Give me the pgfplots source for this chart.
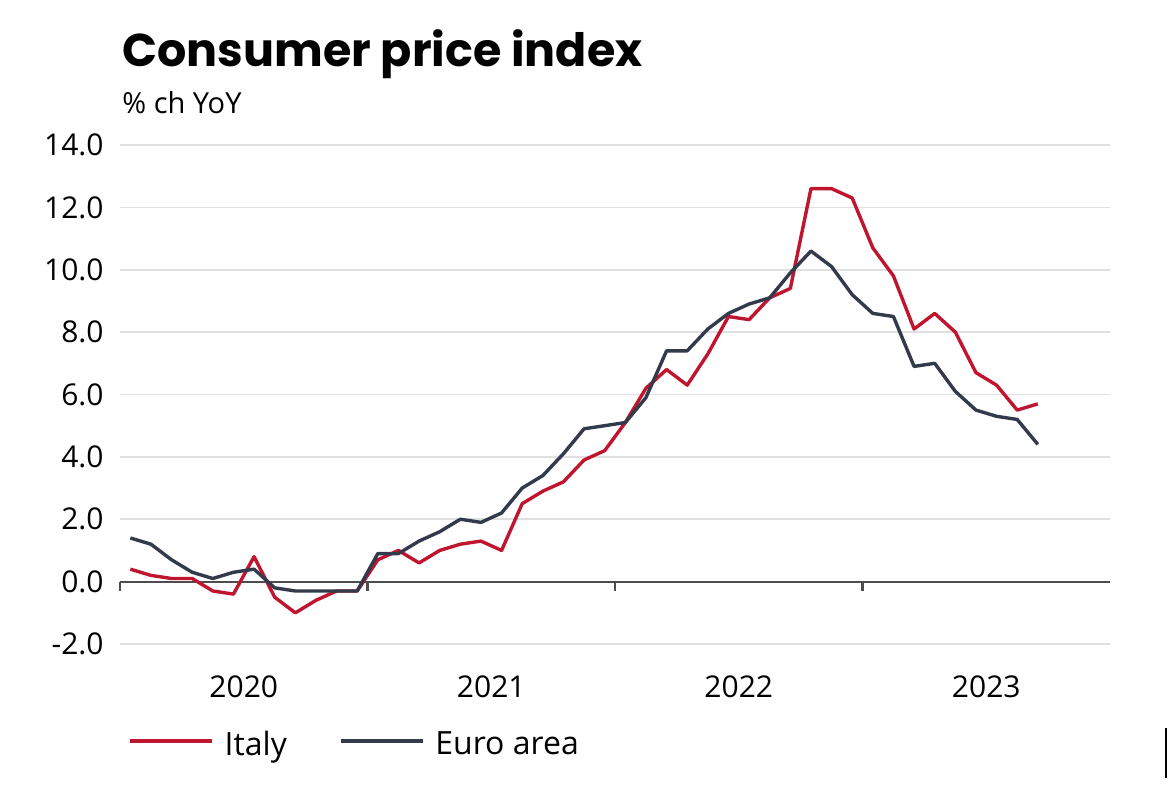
\documentclass[border=0pt]{standalone}
\usepackage{pgfplots}
\pgfplotsset{compat=1.18}
\usepackage{pgfplotstable}
\usepackage{fontspec}
\setmainfont{Open Sans}
\newfontfamily\titlefont{Poppins}
\definecolor{italyred}{HTML}{C0152F}
\definecolor{euronavy}{HTML}{323A4B}
\definecolor{gridgray}{HTML}{E0E0E0}
\definecolor{zerogray}{HTML}{4D4D4D}

\pgfplotstableread{
x italy euro
0.5 0.4 1.4
1.5 0.2 1.2
2.5 0.1 0.7
3.5 0.1 0.3
4.5 -0.3 0.1
5.5 -0.4 0.3
6.5 0.8 0.4
7.5 -0.5 -0.2
8.5 -1.0 -0.3
9.5 -0.6 -0.3
10.5 -0.3 -0.3
11.5 -0.3 -0.3
12.5 0.7 0.9
13.5 1.0 0.9
14.5 0.6 1.3
15.5 1.0 1.6
16.5 1.2 2.0
17.5 1.3 1.9
18.5 1.0 2.2
19.5 2.5 3.0
20.5 2.9 3.4
21.5 3.2 4.1
22.5 3.9 4.9
23.5 4.2 5.0
24.5 5.1 5.1
25.5 6.2 5.9
26.5 6.8 7.4
27.5 6.3 7.4
28.5 7.3 8.1
29.5 8.5 8.6
30.5 8.4 8.9
31.5 9.1 9.1
32.5 9.4 9.9
33.5 12.6 10.6
34.5 12.6 10.1
35.5 12.3 9.2
36.5 10.7 8.6
37.5 9.8 8.5
38.5 8.1 6.9
39.5 8.6 7.0
40.5 8.0 6.1
41.5 6.7 5.5
42.5 6.3 5.3
43.5 5.5 5.2
44.5 5.7 4.4
}\cpidata

\begin{document}
\begin{tikzpicture}
\useasboundingbox (-60pt,-74pt) rectangle (525pt,322pt);
\begin{axis}[
  at={(0pt,0pt)}, anchor=south west,
  scale only axis, width=495pt, height=249.5pt,
  xmin=0, xmax=48, ymin=-2, ymax=14,
  axis x line*=bottom, axis y line*=left,
  axis line style={draw=none},
  major tick length=0pt,
  xtick={6,18,30,42}, xticklabels={2020,2021,2022,2023},
  ytick={-2,0,2,4,6,8,10,12,14},
  ymajorgrids, major grid style={draw=gridgray, line width=0.8pt},
  /pgf/number format/assume math mode=true,
  yticklabel style={/pgf/number format/fixed, /pgf/number format/fixed zerofill, /pgf/number format/precision=1,
     anchor=east, inner sep=0pt, xshift=-8pt, font=\fontsize{15}{18}\selectfont},
  xticklabel style={anchor=base, inner sep=0pt, yshift=-26.5pt, font=\fontsize{15}{18}\selectfont},
  legend columns=2,
  legend style={draw=none, fill=none, at={(0.008,-0.2024)}, anchor=west, inner sep=0pt,
     nodes={inner sep=0pt, font=\fontsize{16}{19}\selectfont},
     /tikz/every odd column/.append style={column sep=5.5pt},
     /tikz/every even column/.append style={column sep=26pt}},
  legend image code/.code={\draw[#1] (0pt,2pt) -- (41pt,2pt);},
  clip=false,
]
\addplot[draw=zerogray, line width=1.1pt, forget plot] coordinates {(0,0) (48,0)};
\draw[zerogray, line width=1.1pt] ([yshift=-4.5pt]axis cs:0,0) -- (axis cs:0,0);
\draw[zerogray, line width=1.1pt] ([yshift=-4.5pt]axis cs:12,0) -- (axis cs:12,0);
\draw[zerogray, line width=1.1pt] ([yshift=-4.5pt]axis cs:24,0) -- (axis cs:24,0);
\draw[zerogray, line width=1.1pt] ([yshift=-4.5pt]axis cs:36,0) -- (axis cs:36,0);
\addplot[italyred, line width=1.7pt, line join=round] table[x=x, y=italy] {\cpidata};
\addlegendentry{Italy}
\addplot[euronavy, line width=1.7pt, line join=round] table[x=x, y=euro] {\cpidata};
\addlegendentry{Euro area}
\end{axis}
\node[anchor=base west, inner sep=0pt, font=\titlefont\bfseries\fontsize{23}{27}\selectfont] at (1pt,288.7pt) {Consumer price index};
\node[anchor=base west, inner sep=0pt, font=\fontsize{14.5}{17}\selectfont] at (1pt,265pt) {\% ch YoY};
\draw[black, line width=0.8pt] (523pt,-42pt) -- (523pt,-67pt);
\end{tikzpicture}
\end{document}
